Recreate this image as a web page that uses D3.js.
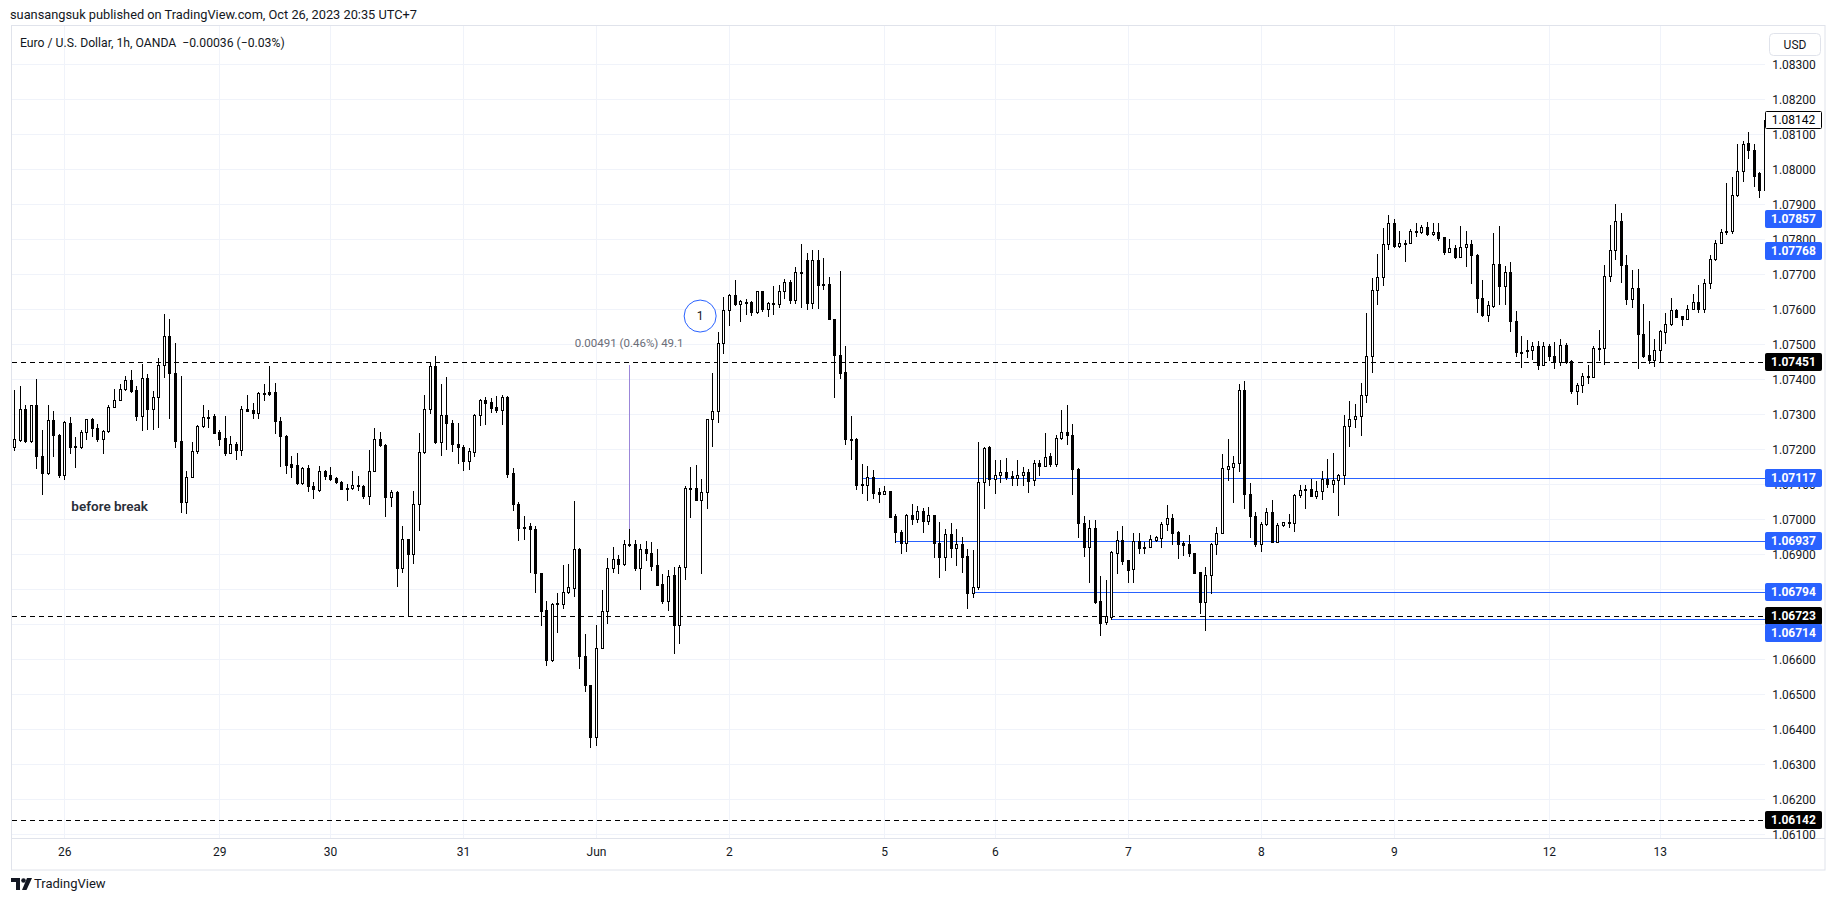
<!DOCTYPE html>
<html><head><meta charset="utf-8">
<script src="https://cdn.jsdelivr.net/npm/d3@7"></script>
<style>
html,body{margin:0;padding:0;background:#fff;}
svg{display:block;font-family:Roboto,"Noto Sans",sans-serif;}
</style></head><body>
<svg id="chart" width="1835" height="901"></svg>
<script>
// ---------- DATA (EUR/USD 1h, OANDA) ----------
const open = [1.07208,1.07227,1.07315,1.07223,1.07326,1.07182,1.07132,1.07284,1.07241,1.07126,
1.07275,1.07211,1.07207,1.07249,1.07286,1.07261,1.07230,1.07253,1.07321,1.07341,
1.07372,1.07398,1.07370,1.07294,1.07405,1.07315,1.07350,1.07440,1.07524,1.07417,
1.07225,1.07051,1.07122,1.07196,1.07267,1.07292,1.07296,1.07251,1.07233,1.07191,
1.07215,1.07198,1.07315,1.07313,1.07304,1.07361,1.07363,1.07363,1.07282,1.07239,
1.07159,1.07155,1.07104,1.07148,1.07096,1.07085,1.07139,1.07127,1.07117,1.07108,
1.07089,1.07089,1.07097,1.07096,1.07066,1.07139,1.07229,1.07213,1.07064,1.07078,
1.06860,1.06945,1.06902,1.07044,1.07192,1.07314,1.07438,1.07222,1.07297,1.07274,
1.07215,1.07206,1.07168,1.07194,1.07298,1.07341,1.07334,1.07320,1.07313,1.07349,
1.07132,1.07044,1.06978,1.06981,1.06972,1.06846,1.06741,1.06597,1.06760,1.06759,
1.06793,1.06805,1.06916,1.06611,1.06526,1.06378,1.06632,1.06737,1.06860,1.06886,
1.06872,1.06931,1.06931,1.06862,1.06916,1.06903,1.06870,1.06816,1.06768,1.06841,
1.06698,1.06863,1.07089,1.07089,1.07055,1.07077,1.07286,1.07311,1.07503,1.07598,
1.07640,1.07614,1.07622,1.07621,1.07593,1.07652,1.07602,1.07614,1.07614,1.07652,
1.07679,1.07627,1.07708,1.07741,1.07617,1.07741,1.07672,1.07672,1.07573,1.07471,
1.07420,1.07231,1.07229,1.07102,1.07098,1.07120,1.07079,1.07073,1.07082,1.07010,
1.06965,1.06933,1.07012,1.07000,1.07024,1.06996,1.07012,1.06933,1.06893,1.06958,
1.06919,1.06930,1.06895,1.06789,1.06806,1.07106,1.07208,1.07114,1.07127,1.07134,
1.07124,1.07118,1.07126,1.07135,1.07113,1.07160,1.07154,1.07181,1.07158,1.07232,
1.07249,1.07240,1.07143,1.06989,1.06920,1.06975,1.06766,1.06706,1.06721,1.06905,
1.06941,1.06884,1.06858,1.06937,1.06922,1.06922,1.06941,1.06948,1.06986,1.07003,
1.06964,1.06932,1.06929,1.06903,1.06851,1.06763,1.06842,1.06930,1.06961,1.07145,
1.07151,1.07160,1.07370,1.07073,1.07011,1.06929,1.06987,1.07021,1.06934,1.06983,
1.06992,1.06990,1.07070,1.07087,1.07086,1.07066,1.07082,1.07115,1.07102,1.07113,
1.07128,1.07266,1.07287,1.07296,1.07355,1.07467,1.07656,1.07692,1.07786,1.07846,
1.07780,1.07789,1.07789,1.07825,1.07821,1.07835,1.07815,1.07821,1.07806,1.07765,
1.07775,1.07751,1.07778,1.07787,1.07756,1.07632,1.07585,1.07610,1.07729,1.07668,
1.07708,1.07566,1.07479,1.07485,1.07483,1.07496,1.07440,1.07496,1.07468,1.07449,
1.07499,1.07453,1.07366,1.07385,1.07410,1.07408,1.07489,1.07489,1.07696,1.07770,
1.07853,1.07727,1.07629,1.07661,1.07529,1.07470,1.07456,1.07485,1.07535,1.07558,
1.07599,1.07580,1.07574,1.07601,1.07621,1.07602,1.07675,1.07744,1.07789,1.07820,
1.07825,1.07927,1.07996,1.08075,1.08056,1.07989,1.07942];
const high = [1.07370,1.07382,1.07327,1.07327,1.07401,1.07254,1.07327,1.07310,1.07243,1.07280,
1.07292,1.07235,1.07256,1.07288,1.07289,1.07273,1.07256,1.07327,1.07372,1.07388,
1.07410,1.07427,1.07380,1.07444,1.07414,1.07367,1.07461,1.07587,1.07573,1.07505,
1.07410,1.07139,1.07220,1.07270,1.07326,1.07313,1.07302,1.07256,1.07294,1.07239,
1.07220,1.07323,1.07356,1.07332,1.07364,1.07386,1.07437,1.07389,1.07292,1.07241,
1.07180,1.07191,1.07151,1.07156,1.07108,1.07153,1.07142,1.07151,1.07121,1.07111,
1.07101,1.07137,1.07123,1.07098,1.07199,1.07261,1.07249,1.07216,1.07085,1.07080,
1.06982,1.06945,1.07080,1.07246,1.07355,1.07449,1.07467,1.07387,1.07407,1.07284,
1.07274,1.07213,1.07203,1.07300,1.07345,1.07351,1.07346,1.07353,1.07355,1.07352,
1.07148,1.07049,1.07010,1.06989,1.06981,1.06846,1.06768,1.06762,1.06789,1.06870,
1.06872,1.07053,1.06917,1.06673,1.06527,1.06698,1.06798,1.06889,1.06920,1.06898,
1.06941,1.06972,1.06941,1.06931,1.06938,1.06935,1.06916,1.06843,1.06854,1.06863,
1.06870,1.07095,1.07149,1.07155,1.07115,1.07286,1.07419,1.07536,1.07636,1.07644,
1.07684,1.07627,1.07631,1.07623,1.07653,1.07653,1.07622,1.07667,1.07669,1.07688,
1.07685,1.07720,1.07788,1.07760,1.07769,1.07769,1.07746,1.07693,1.07573,1.07710,
1.07495,1.07295,1.07232,1.07157,1.07152,1.07141,1.07089,1.07096,1.07082,1.07015,
1.06970,1.07015,1.07043,1.07039,1.07032,1.07036,1.07012,1.06993,1.06974,1.06989,
1.06974,1.06951,1.06914,1.06913,1.07222,1.07208,1.07210,1.07170,1.07170,1.07176,
1.07137,1.07170,1.07149,1.07143,1.07170,1.07170,1.07246,1.07191,1.07241,1.07313,
1.07327,1.07273,1.07148,1.07010,1.06999,1.06999,1.06839,1.06827,1.06910,1.06967,
1.06980,1.06884,1.06961,1.06961,1.06934,1.06956,1.06953,1.06994,1.07041,1.07015,
1.06967,1.06937,1.06956,1.06905,1.06851,1.06865,1.06932,1.06977,1.07187,1.07230,
1.07181,1.07387,1.07396,1.07103,1.07020,1.06994,1.07032,1.07054,1.06989,1.06994,
1.07015,1.07072,1.07099,1.07099,1.07115,1.07110,1.07137,1.07172,1.07189,1.07130,
1.07299,1.07339,1.07330,1.07391,1.07589,1.07691,1.07759,1.07832,1.07870,1.07858,
1.07823,1.07799,1.07829,1.07846,1.07842,1.07851,1.07846,1.07848,1.07808,1.07801,
1.07783,1.07839,1.07824,1.07797,1.07758,1.07685,1.07623,1.07818,1.07839,1.07725,
1.07735,1.07596,1.07523,1.07513,1.07508,1.07510,1.07508,1.07501,1.07508,1.07516,
1.07504,1.07456,1.07389,1.07418,1.07442,1.07494,1.07540,1.07727,1.07842,1.07901,
1.07875,1.07756,1.07713,1.07715,1.07615,1.07567,1.07515,1.07542,1.07589,1.07632,
1.07601,1.07580,1.07613,1.07644,1.07670,1.07686,1.07756,1.07799,1.07829,1.07961,
1.07977,1.08073,1.08081,1.08108,1.08073,1.07994,1.08142];
const low = [1.07197,1.07223,1.07220,1.07220,1.07146,1.07072,1.07130,1.07180,1.07121,1.07115,
1.07191,1.07151,1.07205,1.07231,1.07239,1.07225,1.07191,1.07251,1.07320,1.07340,
1.07370,1.07365,1.07285,1.07254,1.07258,1.07258,1.07263,1.07408,1.07291,1.07206,
1.07020,1.07017,1.07120,1.07189,1.07265,1.07265,1.07246,1.07212,1.07184,1.07189,
1.07172,1.07183,1.07309,1.07291,1.07291,1.07340,1.07356,1.07246,1.07154,1.07132,
1.07121,1.07102,1.07101,1.07080,1.07060,1.07082,1.07115,1.07113,1.07104,1.07087,
1.07054,1.07087,1.07085,1.07061,1.07044,1.07137,1.07210,1.07010,1.07039,1.06811,
1.06849,1.06725,1.06875,1.06970,1.07190,1.07305,1.07217,1.07184,1.07202,1.07196,
1.07162,1.07141,1.07143,1.07181,1.07270,1.07273,1.07308,1.07306,1.07273,1.07122,
1.07027,1.06941,1.06943,1.06851,1.06794,1.06698,1.06584,1.06595,1.06677,1.06746,
1.06791,1.06781,1.06575,1.06511,1.06351,1.06356,1.06632,1.06705,1.06851,1.06848,
1.06870,1.06924,1.06854,1.06802,1.06884,1.06854,1.06813,1.06760,1.06741,1.06618,
1.06646,1.06829,1.07008,1.07055,1.06846,1.07032,1.07210,1.07279,1.07476,1.07555,
1.07612,1.07567,1.07588,1.07584,1.07590,1.07596,1.07582,1.07586,1.07606,1.07633,
1.07619,1.07619,1.07606,1.07600,1.07603,1.07603,1.07657,1.07573,1.07350,1.07405,
1.07214,1.07174,1.07086,1.07074,1.07055,1.07060,1.07051,1.07073,1.07008,1.06936,
1.06903,1.06911,1.06987,1.06993,1.06965,1.06987,1.06893,1.06834,1.06855,1.06893,
1.06870,1.06851,1.06746,1.06779,1.06800,1.07032,1.07098,1.07074,1.07108,1.07114,
1.07099,1.07099,1.07099,1.07077,1.07099,1.07126,1.07154,1.07154,1.07154,1.07229,
1.07215,1.07072,1.06951,1.06894,1.06822,1.06761,1.06670,1.06700,1.06715,1.06846,
1.06872,1.06822,1.06822,1.06903,1.06903,1.06922,1.06939,1.06922,1.06970,1.06930,
1.06889,1.06899,1.06894,1.06848,1.06732,1.06683,1.06791,1.06901,1.06961,1.07113,
1.07051,1.07139,1.07032,1.06951,1.06924,1.06910,1.06985,1.06934,1.06934,1.06981,
1.06978,1.06967,1.07065,1.07032,1.07066,1.07061,1.07058,1.07092,1.07077,1.07013,
1.07102,1.07211,1.07263,1.07240,1.07334,1.07420,1.07616,1.07670,1.07772,1.07777,
1.07777,1.07737,1.07789,1.07810,1.07818,1.07813,1.07813,1.07799,1.07759,1.07765,
1.07746,1.07749,1.07725,1.07675,1.07594,1.07582,1.07568,1.07606,1.07615,1.07615,
1.07537,1.07466,1.07434,1.07464,1.07459,1.07430,1.07440,1.07456,1.07432,1.07440,
1.07447,1.07361,1.07330,1.07363,1.07391,1.07406,1.07456,1.07445,1.07682,1.07744,
1.07677,1.07615,1.07608,1.07432,1.07465,1.07446,1.07437,1.07449,1.07504,1.07556,
1.07578,1.07556,1.07574,1.07600,1.07594,1.07594,1.07661,1.07742,1.07789,1.07816,
1.07818,1.07925,1.07968,1.08032,1.07953,1.07921,1.07942];
const close = [1.07230,1.07315,1.07223,1.07326,1.07180,1.07132,1.07284,1.07240,1.07126,1.07277,
1.07208,1.07207,1.07249,1.07286,1.07261,1.07230,1.07253,1.07321,1.07341,1.07372,
1.07398,1.07367,1.07294,1.07404,1.07315,1.07350,1.07442,1.07524,1.07417,1.07225,
1.07051,1.07122,1.07196,1.07267,1.07292,1.07290,1.07248,1.07231,1.07191,1.07215,
1.07198,1.07315,1.07311,1.07304,1.07361,1.07360,1.07358,1.07280,1.07237,1.07156,
1.07151,1.07104,1.07148,1.07094,1.07086,1.07139,1.07125,1.07115,1.07106,1.07088,
1.07088,1.07097,1.07095,1.07066,1.07139,1.07229,1.07212,1.07064,1.07078,1.06860,
1.06945,1.06902,1.07044,1.07192,1.07314,1.07438,1.07222,1.07298,1.07274,1.07214,
1.07206,1.07168,1.07195,1.07298,1.07341,1.07333,1.07319,1.07313,1.07349,1.07130,
1.07043,1.06976,1.06975,1.06972,1.06846,1.06739,1.06597,1.06758,1.06757,1.06794,
1.06806,1.06916,1.06611,1.06526,1.06378,1.06632,1.06737,1.06860,1.06886,1.06872,
1.06929,1.06927,1.06862,1.06916,1.06903,1.06868,1.06813,1.06768,1.06839,1.06698,
1.06863,1.07089,1.07086,1.07055,1.07077,1.07286,1.07311,1.07503,1.07598,1.07640,
1.07614,1.07623,1.07621,1.07593,1.07652,1.07602,1.07617,1.07619,1.07652,1.07677,
1.07627,1.07708,1.07706,1.07617,1.07741,1.07669,1.07669,1.07573,1.07471,1.07419,
1.07231,1.07229,1.07098,1.07098,1.07120,1.07076,1.07073,1.07082,1.07008,1.06965,
1.06933,1.07012,1.07000,1.07024,1.06996,1.07012,1.06933,1.06893,1.06958,1.06919,
1.06930,1.06893,1.06789,1.06806,1.07106,1.07205,1.07114,1.07127,1.07134,1.07122,
1.07118,1.07126,1.07135,1.07111,1.07160,1.07154,1.07179,1.07158,1.07232,1.07249,
1.07241,1.07143,1.06989,1.06920,1.06975,1.06765,1.06705,1.06724,1.06907,1.06941,
1.06882,1.06856,1.06937,1.06918,1.06918,1.06943,1.06949,1.06987,1.07003,1.06962,
1.06929,1.06927,1.06903,1.06848,1.06763,1.06842,1.06930,1.06961,1.07146,1.07152,
1.07160,1.07370,1.07073,1.07011,1.06929,1.06987,1.07021,1.06934,1.06984,1.06992,
1.06990,1.07070,1.07084,1.07083,1.07066,1.07082,1.07115,1.07102,1.07113,1.07128,
1.07266,1.07287,1.07296,1.07355,1.07467,1.07656,1.07692,1.07786,1.07846,1.07780,
1.07789,1.07790,1.07825,1.07821,1.07835,1.07815,1.07821,1.07805,1.07765,1.07775,
1.07751,1.07778,1.07787,1.07756,1.07632,1.07585,1.07613,1.07729,1.07668,1.07708,
1.07566,1.07477,1.07475,1.07480,1.07496,1.07440,1.07496,1.07466,1.07449,1.07499,
1.07449,1.07366,1.07385,1.07410,1.07408,1.07489,1.07491,1.07696,1.07770,1.07853,
1.07727,1.07629,1.07661,1.07529,1.07468,1.07456,1.07485,1.07537,1.07558,1.07599,
1.07578,1.07574,1.07601,1.07621,1.07602,1.07675,1.07744,1.07789,1.07820,1.07825,
1.07927,1.07996,1.08073,1.08054,1.07982,1.07942,1.08142];

// time axis: label text and the bar number (hour bar) where that day starts
const dayLabels = ["26","29","30","31","Jun","2","5","6","7","8","9","12","13"];
const dayBars   = [9, 37, 57, 81, 105, 129, 157, 177, 201, 225, 249, 277, 297];

// price scale ticks
const priceTicks = [1.061,1.062,1.063,1.064,1.065,1.066,1.067,1.068,1.069,1.070,1.071,1.072,
                    1.073,1.074,1.075,1.076,1.077,1.078,1.079,1.080,1.081,1.082,1.083];

// drawings
const dashedLevels = [1.07451, 1.06723, 1.06142];
const blueLevels   = [1.07117, 1.06937, 1.06794, 1.06714];
const blueStarts   = [153, 159, 173, 198];
const blueAxisTags = [1.07857, 1.07768, 1.07117, 1.06937, 1.06794, 1.06714];
const lastPrice = 1.08142;
const measureBar = 111, measureFrom = 1.06950, measureTo = 1.07441;
const measureText = "0.00491 (0.46%) 49.1";
const noteText = "before break", noteBar = 10.3, notePrice = 1.07038;
const markerText = "1", markerBar = 123.8, markerPrice = 1.07581;

const headerText = "suansangsuk published on TradingView.com, Oct 26, 2023 20:35 UTC+7";
const legendText = "Euro / U.S. Dollar, 1h, OANDA\u00a0\u00a0\u22120.00036 (\u22120.03%)";

// ---------- LAYOUT ----------
const svg = d3.select("#chart");
const P = {left: 12, right: 1765, top: 26, bottom: 838, frameRight: 1825, frameBottom: 870};
const x = d3.scaleLinear().domain([0, 316]).range([14.3, 14.3 + 316 * 5.54]);
const y = d3.scaleLinear().domain([1.061, 1.083]).range([834.4, 64.4]);
const cx = i => Math.round(x(i));
const cy = v => Math.round(y(v)) + 0.5;
const idx = d3.range(open.length);

svg.append("rect").attr("width", 1835).attr("height", 901).attr("fill", "#fff");

// header
svg.append("text").attr("x", 10).attr("y", 19).attr("font-size", 12.8).attr("fill", "#131722").text(headerText);

// frame
svg.append("rect").attr("x", 11.5).attr("y", 25.5)
  .attr("width", P.frameRight - 11.5).attr("height", P.frameBottom - 25.5)
  .attr("fill", "none").attr("stroke", "#e0e3eb");
svg.append("line").attr("x1", 12).attr("x2", P.frameRight).attr("y1", P.bottom + 0.5).attr("y2", P.bottom + 0.5)
  .attr("stroke", "#e0e3eb");

// grid
const grid = svg.append("g");
grid.selectAll("line.h").data(priceTicks).join("line")
  .attr("x1", P.left).attr("x2", P.right).attr("y1", d => cy(d)).attr("y2", d => cy(d))
  .attr("stroke", "#f0f3fa");
grid.selectAll("line.v").data(dayBars).join("line")
  .attr("x1", d => cx(d) + 0.5).attr("x2", d => cx(d) + 0.5).attr("y1", P.top).attr("y2", P.bottom)
  .attr("stroke", "#f0f3fa");

// clip
svg.append("clipPath").attr("id", "plotclip").append("rect")
  .attr("x", P.left).attr("y", P.top).attr("width", P.right - P.left).attr("height", P.bottom - P.top);
const plot = svg.append("g").attr("clip-path", "url(#plotclip)");

// dashed horizontal levels
plot.selectAll("line.dash").data(dashedLevels).join("line")
  .attr("x1", P.left).attr("x2", P.right).attr("y1", d => cy(d)).attr("y2", d => cy(d))
  .attr("stroke", "#000").attr("stroke-dasharray", "5,4");

// blue horizontal rays
plot.selectAll("line.blue").data(blueLevels).join("line")
  .attr("x1", (d, i) => x(blueStarts[i])).attr("x2", P.right)
  .attr("y1", d => cy(d)).attr("y2", d => cy(d))
  .attr("stroke", "#2962ff").attr("stroke-width", 1);

// measure line
plot.append("line").attr("x1", cx(measureBar) + 0.5).attr("x2", cx(measureBar) + 0.5)
  .attr("y1", y(measureTo)).attr("y2", y(measureFrom)).attr("stroke", "#9b86d9");
plot.append("text").attr("x", x(measureBar)).attr("y", y(measureTo) - 18)
  .attr("text-anchor", "middle").attr("font-size", 11.5).attr("fill", "#6a6d78").text(measureText);

// candles
plot.selectAll("line.wick").data(idx).join("line")
  .attr("x1", i => cx(i) + 0.5).attr("x2", i => cx(i) + 0.5)
  .attr("y1", i => Math.round(y(high[i]))).attr("y2", i => Math.round(y(low[i])) + 1)
  .attr("stroke", "#000");
plot.selectAll("rect.body").data(idx).join("rect")
  .attr("x", i => cx(i) - 0.5).attr("width", 2)
  .attr("y", i => cy(Math.max(open[i], close[i])))
  .attr("height", i => Math.max(1, cy(Math.min(open[i], close[i])) - cy(Math.max(open[i], close[i]))))
  .attr("fill", i => close[i] >= open[i] ? "#fff" : "#000")
  .attr("stroke", "#000");

// note text
plot.append("text").attr("x", x(noteBar)).attr("y", y(notePrice)).attr("dy", "0.35em")
  .attr("font-size", 13.5).attr("font-weight", 600).attr("fill", "#2a2e39").text(noteText);

// numbered marker
const mk = plot.append("g").attr("transform", `translate(${x(markerBar)},${y(markerPrice)})`);
mk.append("circle").attr("r", 16).attr("fill", "#fff").attr("stroke", "#2962ff").attr("stroke-width", 1);
mk.append("text").attr("text-anchor", "middle").attr("dy", "0.35em").attr("font-size", 12).attr("fill", "#131722").text(markerText);

// legend
svg.append("text").attr("x", 20).attr("y", 47).attr("font-size", 12.2).attr("fill", "#131722").text(legendText);

// price axis labels
const yAxis = d3.axisRight(y).tickValues(priceTicks).tickFormat(d3.format(".5f")).tickSize(0).tickPadding(0);
const ya = svg.append("g").attr("transform", "translate(1794,0)").call(yAxis);
ya.select(".domain").remove();
ya.selectAll("text").attr("text-anchor", "middle").attr("font-size", 12).attr("fill", "#131722")
  .attr("font-family", "Roboto, sans-serif");
// mask the axis labels that fall below the pane bottom
svg.append("rect").attr("x", P.right).attr("y", P.bottom + 1).attr("width", 58).attr("height", 30).attr("fill", "#fff");

// axis tags, with simple collision avoidance (later tags are pushed below earlier ones)
const tagH = 17;
const tags = [];
blueAxisTags.forEach(v => tags.push({v, bg: "#2962ff", fg: "#fff", bold: true}));
dashedLevels.forEach(v => tags.push({v, bg: "#000", fg: "#fff", bold: true}));
tags.push({v: lastPrice, bg: "#fff", fg: "#000", bold: false, border: "#000"});
tags.forEach(t => t.y = Math.round(y(t.v)));
tags.sort((a, b) => a.y - b.y);
for (let k = 1; k < tags.length; k++) {
  if (tags[k].y < tags[k - 1].y + tagH) tags[k].y = tags[k - 1].y + tagH;
}
tags.forEach(t => {
  const g = svg.append("g").attr("transform", `translate(${P.right},${t.y})`);
  g.append("rect").attr("x", 0.5).attr("y", -8.5).attr("width", 56).attr("height", tagH).attr("rx", 1)
    .attr("fill", t.bg).attr("stroke", t.border || t.bg);
  g.append("text").attr("x", 28.5).attr("dy", "0.35em").attr("text-anchor", "middle")
    .attr("font-size", 12).attr("font-weight", t.bold ? 700 : 400).attr("fill", t.fg).text(d3.format(".5f")(t.v));
});

// USD box
svg.append("rect").attr("x", 1769.5).attr("y", 33.5).attr("width", 51).attr("height", 22).attr("rx", 4)
  .attr("fill", "#fff").attr("stroke", "#e0e3eb");
svg.append("text").attr("x", 1795).attr("y", 45).attr("dy", "0.35em").attr("text-anchor", "middle")
  .attr("font-size", 12).attr("fill", "#131722").text("USD");

// time axis
const xAxis = d3.axisBottom(x).tickValues(dayBars).tickFormat((d, i) => dayLabels[i]).tickSize(0).tickPadding(0);
const xa = svg.append("g").attr("transform", `translate(0,${P.bottom + 9})`).call(xAxis);
xa.select(".domain").remove();
xa.selectAll("text").attr("font-size", 12).attr("fill", "#131722").attr("font-family", "Roboto, sans-serif");

// footer logo
const logo = svg.append("g").attr("fill", "#131722");
logo.append("path").attr("d", "M11,878 h9 v12 h-4 v-8 h-5 z");
logo.append("circle").attr("cx", 23.5).attr("cy", 880.5).attr("r", 2.3);
logo.append("path").attr("d", "M27,878 h5 l-5.5,12 h-4.5 z");
svg.append("text").attr("x", 34).attr("y", 888).attr("font-size", 13).attr("fill", "#131722").text("TradingView");
</script>
</body></html>
